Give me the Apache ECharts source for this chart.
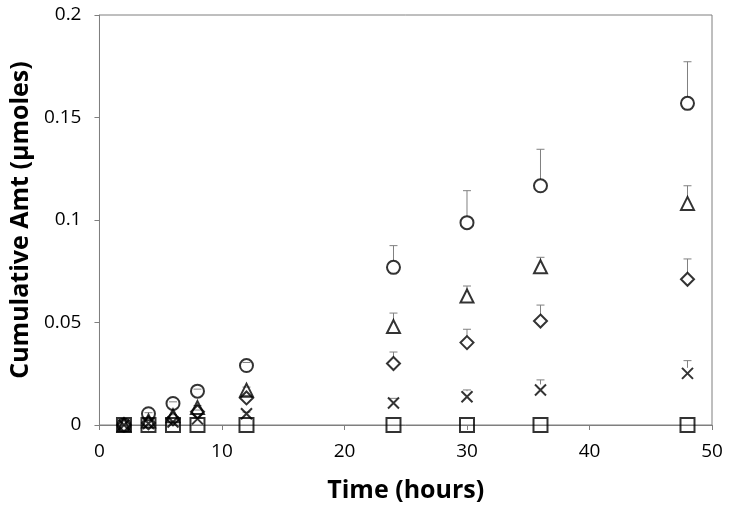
<!DOCTYPE html>
<html>
<head>
<meta charset="utf-8">
<script src="https://cdn.jsdelivr.net/npm/echarts@6/dist/echarts.min.js"></script>
<style>
  html, body { margin: 0; padding: 0; background: #fff; }
  #chart { width: 733px; height: 511px; }
</style>
</head>
<body>
<div id="chart"></div>
<script>
// time points (hours)
const times = [2, 4, 6, 8, 12, 24, 30, 36, 48];

// means and upper error (SD) per series
const circleMean = [0, 0.0055, 0.0105, 0.0165, 0.029, 0.0769, 0.0987, 0.1167, 0.1569];
const circleSd = [0, 0.0005, 0.0008, 0.001, 0.0015, 0.0106, 0.0156, 0.0178, 0.0203];
const triangleMean = [0, 0.002, 0.0045, 0.0085, 0.017, 0.048, 0.0629, 0.0772, 0.1081];
const triangleSd = [0, 0.0003, 0.0005, 0.001, 0.0015, 0.0066, 0.0049, 0.0046, 0.0086];
const diamondMean = [0, 0.001, 0.003, 0.0065, 0.0132, 0.030, 0.0402, 0.0507, 0.0711];
const diamondSd = [0, 0.0002, 0.0004, 0.0008, 0.0012, 0.0056, 0.0065, 0.0078, 0.0099];
const crossMean = [0, 0.0007, 0.0015, 0.003, 0.0055, 0.0107, 0.0138, 0.0171, 0.0252];
const crossSd = [0, 0.0001, 0.0003, 0.0005, 0.0008, 0.0023, 0.0033, 0.0049, 0.0062];
const squareMean = [0, 0, 0, 0, 0, 0, 0, 0, 0];
const squareSd = [0, 0, 0, 0, 0, 0, 0, 0, 0];

const xTicks = [0, 10, 20, 30, 40, 50];
const yTicks = [0, 0.05, 0.1, 0.15, 0.2];

const FONT = '"Open Sans", "Liberation Sans", sans-serif';
const crossPath = 'path://M0,0L10,10M10,0L0,10';

const groups = [
  { name: 'circle', symbol: 'circle', size: 13, mean: circleMean, sd: circleSd },
  { name: 'triangle', symbol: 'triangle', size: 13, mean: triangleMean, sd: triangleSd },
  { name: 'diamond', symbol: 'diamond', size: 13, mean: diamondMean, sd: diamondSd },
  { name: 'cross', symbol: crossPath, size: 11, mean: crossMean, sd: crossSd },
  { name: 'square', symbol: 'rect', size: 14, mean: squareMean, sd: squareSd }
];

const series = [];
groups.forEach(g => {
  // error bars (upper only)
  series.push({
    name: g.name + ' err',
    type: 'custom',
    z: 1,
    silent: true,
    data: times.map((t, i) => [t, g.mean[i], g.mean[i] + g.sd[i]]),
    renderItem: (params, api) => {
      const p = api.coord([api.value(0), api.value(1)]);
      const top = api.coord([api.value(0), api.value(2)]);
      if (p[1] - top[1] < 1) return null;
      const r = g.size / 2;
      const children = [{
        type: 'line',
        shape: { x1: p[0] - 4, y1: top[1], x2: p[0] + 4, y2: top[1] },
        style: { stroke: '#808080', lineWidth: 1 }
      }];
      if (p[1] - r > top[1]) {
        children.push({
          type: 'line',
          shape: { x1: p[0], y1: p[1] - r, x2: p[0], y2: top[1] },
          style: { stroke: '#808080', lineWidth: 1 }
        });
      }
      return { type: 'group', children: children };
    }
  });
  series.push({
    name: g.name,
    type: 'scatter',
    z: 3,
    symbol: g.symbol,
    symbolSize: g.size,
    data: times.map((t, i) => [t, g.mean[i]]),
    itemStyle: { color: 'rgba(0,0,0,0)', borderColor: '#000', borderWidth: 2 }
  });
});

const chart = echarts.init(document.getElementById('chart'));
chart.setOption({
  animation: false,
  backgroundColor: '#fff',
  grid: {
    left: 98, right: 21, top: 15, bottom: 86,
    show: true, borderColor: '#7f7f7f', borderWidth: 1
  },
  xAxis: {
    type: 'value',
    min: 0, max: 50, interval: 10,
    name: 'Time (hours)',
    nameLocation: 'middle',
    nameGap: 53,
    nameTextStyle: { fontFamily: FONT, fontSize: 25, fontWeight: 'bold', color: '#000' },
    axisLine: { show: true, lineStyle: { color: '#7f7f7f' } },
    axisTick: { show: true, length: 5, lineStyle: { color: '#7f7f7f' } },
    axisLabel: {
      fontFamily: FONT, fontSize: 19, color: '#000', margin: 17,
      formatter: v => xTicks.includes(v) ? String(v) : ''
    },
    splitLine: { show: false }
  },
  yAxis: {
    type: 'value',
    min: 0, max: 0.2, interval: 0.05,
    name: 'Cumulative Amt (μmoles)',
    nameLocation: 'middle',
    nameGap: 62,
    nameTextStyle: { fontFamily: FONT, fontSize: 25, fontWeight: 'bold', color: '#000' },
    axisLine: { show: true, lineStyle: { color: '#7f7f7f' } },
    axisTick: { show: true, length: 5, lineStyle: { color: '#7f7f7f' } },
    axisLabel: {
      fontFamily: FONT, fontSize: 19, color: '#000', margin: 18,
      formatter: v => {
        const t = yTicks.find(y => Math.abs(y - v) < 1e-9);
        return t === undefined ? '' : String(t);
      }
    },
    splitLine: { show: false }
  },
  series: series
});
</script>
</body>
</html>
